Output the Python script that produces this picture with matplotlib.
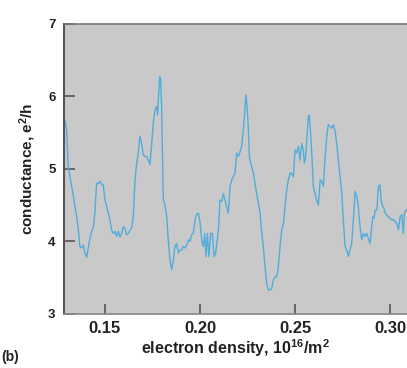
import matplotlib
matplotlib.use('Agg')
import matplotlib.pyplot as plt

plt.rcParams['font.family'] = ['Liberation Sans', 'DejaVu Sans']
plt.rcParams['mathtext.fontset'] = 'custom'
plt.rcParams['mathtext.rm'] = 'Liberation Sans:bold'
plt.rcParams['mathtext.bf'] = 'Liberation Sans:bold'
plt.rcParams['mathtext.default'] = 'bf'

# electron density (10^16 /m^2)
density = [0.1284, 0.1290, 0.1298, 0.1307, 0.1316, 0.1325, 0.1333, 0.1342, 0.1351, 0.1360,
           0.1368, 0.1377, 0.1386, 0.1395, 0.1404, 0.1412, 0.1421, 0.1430, 0.1439, 0.1447,
           0.1456, 0.1465, 0.1474, 0.1482, 0.1491, 0.1500, 0.1509, 0.1518, 0.1526, 0.1535,
           0.1544, 0.1553, 0.1561, 0.1570, 0.1579, 0.1588, 0.1596, 0.1605, 0.1614, 0.1623,
           0.1632, 0.1640, 0.1649, 0.1658, 0.1667, 0.1675, 0.1684, 0.1693, 0.1702, 0.1711,
           0.1719, 0.1728, 0.1737, 0.1746, 0.1754, 0.1763, 0.1772, 0.1777, 0.1782, 0.1788,
           0.1793, 0.1798, 0.1807, 0.1816, 0.1825, 0.1833, 0.1842, 0.1851, 0.1860, 0.1868,
           0.1877, 0.1886, 0.1895, 0.1904, 0.1912, 0.1921, 0.1930, 0.1939, 0.1947, 0.1956,
           0.1965, 0.1974, 0.1982, 0.1991, 0.2000, 0.2009, 0.2018, 0.2025, 0.2032, 0.2039,
           0.2047, 0.2056, 0.2065, 0.2074, 0.2082, 0.2091, 0.2098, 0.2105, 0.2114, 0.2123,
           0.2132, 0.2140, 0.2149, 0.2158, 0.2167, 0.2175, 0.2184, 0.2193, 0.2202, 0.2211,
           0.2219, 0.2228, 0.2237, 0.2242, 0.2249, 0.2254, 0.2260, 0.2267, 0.2272, 0.2281,
           0.2289, 0.2298, 0.2307, 0.2316, 0.2325, 0.2333, 0.2342, 0.2351, 0.2360, 0.2368,
           0.2377, 0.2386, 0.2395, 0.2404, 0.2412, 0.2421, 0.2430, 0.2439, 0.2447, 0.2456,
           0.2465, 0.2474, 0.2482, 0.2491, 0.2500, 0.2509, 0.2518, 0.2526, 0.2535, 0.2544,
           0.2549, 0.2556, 0.2563, 0.2570, 0.2575, 0.2582, 0.2589, 0.2596, 0.2605, 0.2614,
           0.2623, 0.2632, 0.2640, 0.2649, 0.2658, 0.2667, 0.2675, 0.2684, 0.2693, 0.2702,
           0.2711, 0.2719, 0.2728, 0.2737, 0.2746, 0.2754, 0.2763, 0.2772, 0.2781, 0.2789,
           0.2798, 0.2807, 0.2816, 0.2825, 0.2833, 0.2842, 0.2851, 0.2860, 0.2868, 0.2877,
           0.2886, 0.2895, 0.2900, 0.2909, 0.2916, 0.2921, 0.2930, 0.2939, 0.2947, 0.2953,
           0.2961, 0.2968, 0.2974, 0.2982, 0.2991, 0.3000, 0.3009, 0.3018, 0.3026, 0.3035,
           0.3044, 0.3053, 0.3061, 0.3070, 0.3075, 0.3084, 0.3095]

# conductance (e^2/h)
conductance = [5.68, 5.66, 5.55, 5.03, 4.89, 4.76, 4.64, 4.48, 4.34, 4.16,
               3.93, 3.91, 3.95, 3.84, 3.78, 3.91, 4.04, 4.14, 4.20, 4.39,
               4.80, 4.80, 4.83, 4.79, 4.78, 4.57, 4.48, 4.39, 4.30, 4.16,
               4.11, 4.14, 4.07, 4.14, 4.06, 4.11, 4.20, 4.18, 4.09, 4.11,
               4.16, 4.18, 4.34, 4.85, 5.08, 5.22, 5.45, 5.35, 5.19, 5.17,
               5.17, 5.12, 5.06, 5.35, 5.63, 5.81, 5.86, 5.74, 6.00, 6.27,
               6.23, 5.86, 4.57, 4.50, 4.34, 4.02, 3.74, 3.61, 3.74, 3.93,
               3.97, 3.84, 3.88, 3.88, 3.93, 3.91, 3.95, 4.02, 4.00, 4.09,
               4.11, 4.30, 4.37, 4.39, 4.27, 4.02, 3.93, 4.11, 3.79, 4.11,
               3.79, 4.11, 4.11, 3.79, 3.84, 4.02, 4.20, 4.57, 4.55, 4.66,
               4.57, 4.48, 4.39, 4.76, 4.85, 4.89, 4.94, 5.22, 5.17, 5.24,
               5.31, 5.54, 5.86, 6.02, 5.81, 5.58, 5.17, 5.08, 5.03, 4.94,
               4.80, 4.66, 4.53, 4.39, 4.11, 3.93, 3.65, 3.42, 3.33, 3.33,
               3.35, 3.47, 3.51, 3.51, 3.65, 3.93, 4.16, 4.25, 4.48, 4.71,
               4.85, 4.94, 4.94, 4.89, 5.26, 5.22, 5.31, 5.12, 5.35, 5.26,
               5.08, 5.17, 5.45, 5.72, 5.74, 5.49, 5.17, 4.76, 4.66, 4.57,
               4.50, 4.85, 4.83, 4.76, 5.17, 5.45, 5.61, 5.59, 5.56, 5.61,
               5.52, 5.35, 5.12, 4.89, 4.66, 4.30, 3.93, 3.88, 3.79, 3.88,
               3.97, 4.30, 4.69, 4.62, 4.48, 4.20, 4.02, 4.11, 4.07, 4.11,
               4.04, 3.97, 4.11, 4.34, 4.32, 4.43, 4.43, 4.76, 4.78, 4.57,
               4.48, 4.46, 4.39, 4.37, 4.34, 4.32, 4.30, 4.30, 4.27, 4.25,
               4.16, 4.34, 4.37, 4.11, 4.39, 4.43, 4.43]

xticks = [0.15, 0.20, 0.25, 0.30]
xtick_labels = ['0.15', '0.20', '0.25', '0.30']
yticks = [3, 4, 5, 6, 7]

fig = plt.figure(figsize=(4.07, 3.68), dpi=100)
ax = fig.add_axes([0.157, 0.147, 0.843, 0.788])
ax.set_facecolor('#c9c9c9')

ax.plot(density, conductance, color='#52acdb', linewidth=1.0)

ax.set_xlim(0.1284, 0.3089)
ax.set_ylim(3, 7)
ax.set_xticks(xticks)
ax.set_xticklabels(xtick_labels)
ax.set_yticks(yticks)

ax.tick_params(axis='x', direction='in', length=7, width=1.2, color='#555555',
               labelsize=12, pad=5)
ax.tick_params(axis='y', direction='in', length=8, width=1.2, color='#555555',
               labelsize=9.5, pad=6)
for lab in ax.get_xticklabels() + ax.get_yticklabels():
    lab.set_fontweight('bold')
    lab.set_color('#222222')

ax.spines['right'].set_visible(False)
ax.spines['left'].set_color('#555555')
ax.spines['left'].set_linewidth(1.5)
ax.spines['top'].set_color('#777777')
ax.spines['top'].set_linewidth(1.2)
ax.spines['bottom'].set_color('#888888')
ax.spines['bottom'].set_linewidth(1.2)

ax.set_xlabel(r'electron density, 10$^{16}$/m$^{2}$', fontsize=11.5, fontweight='bold',
              color='#222222', labelpad=1)
ax.set_ylabel(r'conductance, e$^{2}$/h', fontsize=11, fontweight='bold',
              color='#222222', labelpad=7)

fig.text(0.003, 0.02, '(b)', fontsize=10, fontweight='bold', color='#222222')

fig.savefig('out.png', dpi=100)
